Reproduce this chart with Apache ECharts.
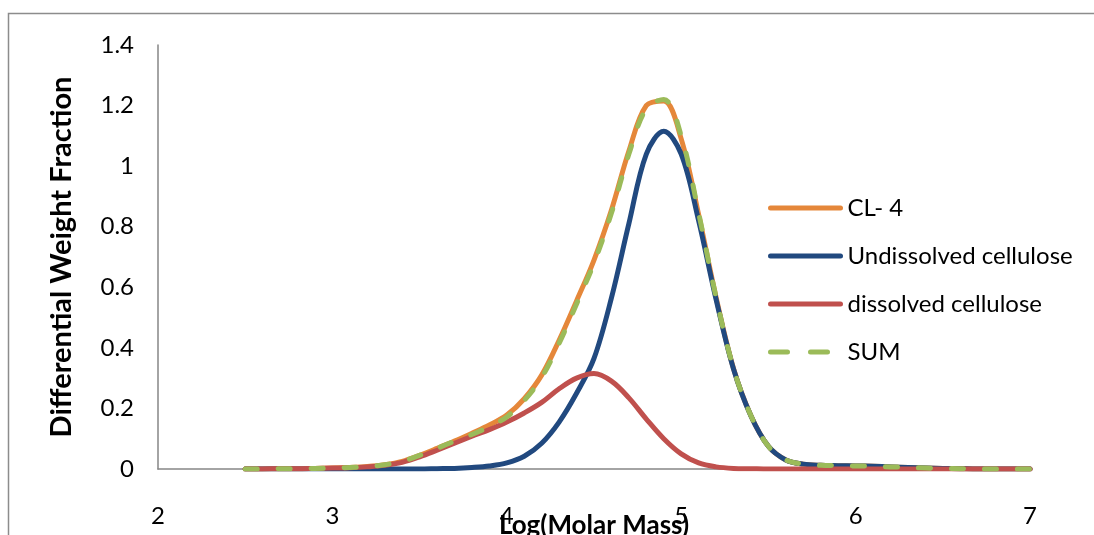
<!DOCTYPE html>
<html>
<head>
<meta charset="utf-8">
<script src="https://cdn.jsdelivr.net/npm/echarts@6/dist/echarts.min.js"></script>
<style>html,body{margin:0;padding:0;background:#fff;overflow:hidden}#c{width:1094px;height:535px}</style>
</head>
<body>
<div id="c"></div>
<script>
var logMass = [2.5,2.6,2.7,2.8,2.9,3.0,3.1,3.2,3.3,3.4,3.5,3.6,3.7,3.8,3.9,4.0,4.1,4.2,4.3,4.4,4.5,4.6,4.7,4.8,4.9,5.0,5.1,5.2,5.3,5.4,5.5,5.6,5.7,5.8,5.9,6.0,6.1,6.2,6.3,6.4,6.5,6.6,6.7,6.8,6.9,7.0];
var cl4 = [0,0,0.001,0.001,0.002,0.003,0.005,0.008,0.014,0.025,0.045,0.068,0.092,0.118,0.145,0.178,0.232,0.31,0.425,0.555,0.69,0.855,1.05,1.2,1.215,1.09,0.84,0.567,0.332,0.176,0.075,0.03,0.016,0.012,0.011,0.01,0.009,0.007,0.005,0.003,0.002,0.001,0,0,0,0];
var undissolved = [0,0,0,0,0,0,0,0,0,0,0,0.001,0.002,0.005,0.01,0.02,0.042,0.085,0.155,0.25,0.365,0.565,0.81,1.04,1.115,1.04,0.82,0.56,0.33,0.175,0.075,0.03,0.016,0.012,0.011,0.01,0.009,0.007,0.005,0.003,0.002,0.001,0,0,0,0];
var dissolved = [0,0,0.001,0.001,0.002,0.003,0.004,0.007,0.012,0.022,0.04,0.062,0.085,0.108,0.13,0.155,0.185,0.22,0.265,0.3,0.315,0.29,0.235,0.165,0.1,0.05,0.02,0.007,0.002,0.001,0,0,0,0,0,0,0,0,0,0,0,0,0,0,0,0];
var sumVals = [0,0,0.001,0.001,0.002,0.003,0.005,0.008,0.014,0.025,0.045,0.068,0.092,0.114,0.14,0.172,0.226,0.302,0.415,0.545,0.68,0.845,1.04,1.19,1.22,1.1,0.845,0.567,0.332,0.176,0.075,0.03,0.016,0.012,0.011,0.01,0.009,0.007,0.005,0.003,0.002,0.001,0,0,0,0];
var seriesNames = ['CL- 4','Undissolved cellulose','dissolved cellulose','SUM'];

function pairs(ys){ return logMass.map(function(x,i){ return [x, ys[i]]; }); }

var chart = echarts.init(document.getElementById('c'), null, {renderer:'canvas', width:1094, height:535});
var font = 'Lato, "Open Sans", sans-serif';
function lineSeries(name, ys, color, dashed){
  return {
    name: name, type: 'line', data: pairs(ys), smooth: 0.35, symbol: 'none',
    lineStyle: {color: color, width: 5, type: dashed ? [12, 21] : 'solid', cap: 'round', join: 'round'},
    itemStyle: {color: color},
    emphasis: {disabled: true}
  };
}
chart.setOption({
  animation: false,
  backgroundColor: '#ffffff',
  graphic: [{
    type: 'rect', shape: {x: 8.5, y: 13.5, width: 1300, height: 700},
    style: {fill: 'none', stroke: '#8c8c8c', lineWidth: 1.5}, silent: true
  }],
  grid: {left: 158, top: 45, right: 64, bottom: 66, containLabel: false, outerBoundsMode: 'none'},
  legend: {
    orient: 'vertical', left: 768, top: 196, padding: 0, itemWidth: 70, itemHeight: 5, itemGap: 24,
    itemStyle: {opacity: 0},
    data: [
      {name: seriesNames[0], lineStyle: {width: 5, cap: 'round'}},
      {name: seriesNames[1], lineStyle: {width: 5, cap: 'round'}},
      {name: seriesNames[2], lineStyle: {width: 5, cap: 'round'}},
      {name: seriesNames[3], lineStyle: {width: 5, type: [17, 23], cap: 'round'}}
    ],
    textStyle: {fontFamily: font, fontSize: 24, color: '#000', padding: [0,0,0,2]}
  },
  xAxis: {
    type: 'value', min: 2, max: 7, interval: 1,
    name: 'Log(Molar Mass)', nameLocation: 'middle', nameGap: 44, nameMoveOverlap: false,
    nameTextStyle: {fontFamily: font, fontSize: 26, fontWeight: 'bold', color: '#000'},
    axisLine: {lineStyle: {color: '#868686', width: 1.5}},
    axisTick: {show: false},
    splitLine: {show: false},
    axisLabel: {fontFamily: font, fontSize: 24, color: '#000', margin: 35}
  },
  yAxis: {
    type: 'value', min: 0, max: 1.4, interval: 0.2,
    name: 'Differential Weight Fraction', nameLocation: 'middle', nameGap: 82, nameRotate: 90, nameMoveOverlap: false,
    nameTextStyle: {fontFamily: font, fontSize: 29, fontWeight: 'bold', color: '#000'},
    axisLine: {show: true, lineStyle: {color: '#868686', width: 1.5}},
    axisTick: {show: false},
    splitLine: {show: false},
    axisLabel: {fontFamily: font, fontSize: 24, color: '#000', margin: 24}
  },
  series: [
    lineSeries(seriesNames[0], cl4, '#E5873A', false),
    lineSeries(seriesNames[1], undissolved, '#21497F', false),
    lineSeries(seriesNames[2], dissolved, '#C0504D', false),
    lineSeries(seriesNames[3], sumVals, '#9BBB59', true)
  ]
});
</script>
</body>
</html>
